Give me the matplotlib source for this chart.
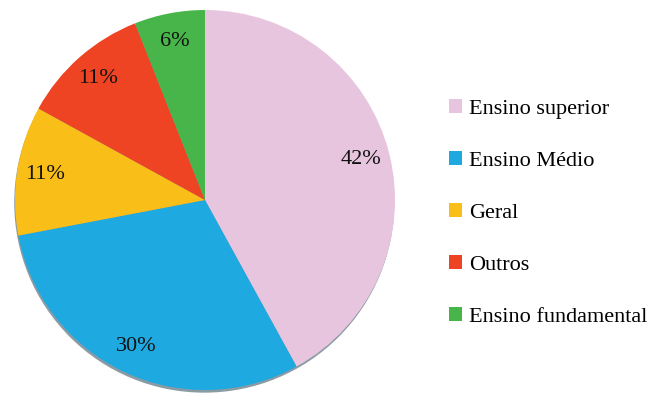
import matplotlib
matplotlib.use("Agg")
import matplotlib.pyplot as plt
from matplotlib.patches import Patch, Circle

# Data
labels = ["Ensino superior", "Ensino Médio", "Geral", "Outros", "Ensino fundamental"]
values = [42, 30, 11, 11, 6]
colors = ["#E8C5DE", "#1FA9E1", "#F9BE17", "#EE4423", "#48B54A"]

plt.rcParams["font.family"] = "serif"
plt.rcParams["font.serif"] = ["Liberation Serif", "Times New Roman", "DejaVu Serif"]

W, H = 652, 397
fig = plt.figure(figsize=(W / 100, H / 100), dpi=100)

# pie centred at (205, 200) px, radius 190 px
cx, cy, r = 205, 200, 190
ax = fig.add_axes([(cx - r) / W, (H - cy - r) / H, 2 * r / W, 2 * r / H])

# faint drop shadow under the pie
shadow = Circle((-0.004, -0.014), 1, facecolor="#2a4a5a", alpha=0.55,
                edgecolor="none", zorder=0, clip_on=False)
ax.add_patch(shadow)

wedges, texts, autotexts = ax.pie(values, colors=colors, startangle=90, counterclock=False, radius=1,
       autopct=lambda p: f"{p:.0f}%", pctdistance=0.85,
       wedgeprops=dict(linewidth=0),
       textprops=dict(fontsize=16, color="#111111"))
for w in wedges:
    w.set_zorder(1)
ax.set_xlim(-1, 1)
ax.set_ylim(-1, 1)
ax.set_aspect("equal")
ax.axis("off")

handles = [Patch(facecolor=c, edgecolor="none") for c in colors]
fig.legend(handles, labels, loc="center left", bbox_to_anchor=(440 / W, 1 - 213 / H),
           frameon=False, fontsize=16, handlelength=0.6, handleheight=0.6,
           handletextpad=0.3, labelspacing=1.45, borderaxespad=0)

fig.savefig("out.png", dpi=100)
